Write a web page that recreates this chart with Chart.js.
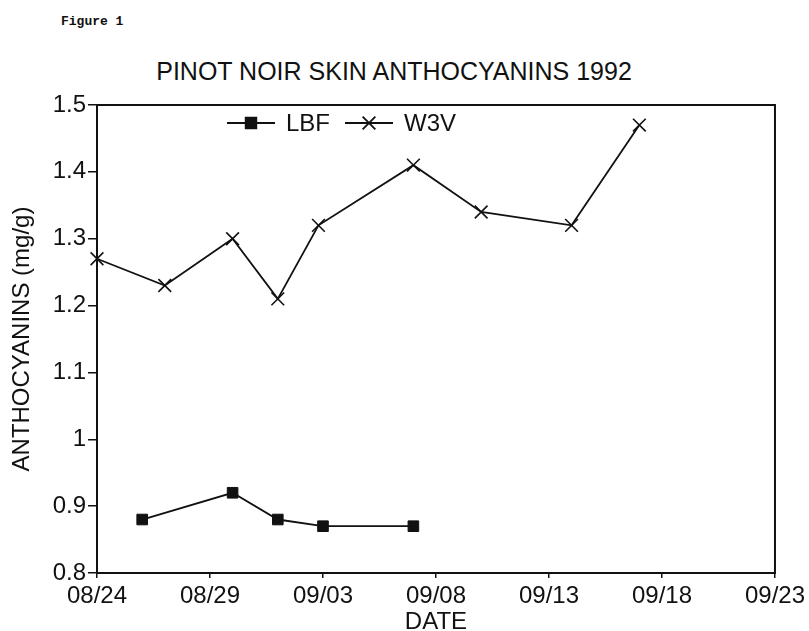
<!DOCTYPE html>
<html>
<head>
<meta charset="utf-8">
<script src="https://cdn.jsdelivr.net/npm/chart.js@4.4.1/dist/chart.umd.min.js"></script>
<style>
	html, body { margin: 0; padding: 0; background: #fff; }
	#wrap { position: relative; width: 809px; height: 631px; overflow: hidden; }
	#chartCanvas { position: absolute; left: 0; top: 0; }
	.fig { position: absolute; left: 61px; top: 14px; font: bold 13px "Liberation Mono", "DejaVu Sans Mono", monospace; color: #111; }
	.title { position: absolute; left: 0; width: 788px; top: 57px; text-align: center; font: 25px "Liberation Sans", Arial, sans-serif; color: #111; }
</style>
</head>
<body>
<div id="wrap">
	<div class="fig">Figure 1</div>
	<div class="title">PINOT NOIR SKIN ANTHOCYANINS 1992</div>
	<canvas id="chartCanvas" width="809" height="631"></canvas>
</div>
<script>
// days counted from 08/24/1992
const lbfDays = [2, 6, 8, 10, 14];
const lbfValues = [0.88, 0.92, 0.88, 0.87, 0.87];
const w3vDays = [0, 3, 6, 8, 9.8, 14, 17, 21, 24];
const w3vValues = [1.27, 1.23, 1.30, 1.21, 1.32, 1.41, 1.34, 1.32, 1.47];
const xTickLabels = ['08/24', '08/29', '09/03', '09/08', '09/13', '09/18', '09/23'];
const yTickLabels = ['0.8', '0.9', '1', '1.1', '1.2', '1.3', '1.4', '1.5'];

const ink = '#111';
const font = '"Liberation Sans", Arial, sans-serif';

function toPoints(days, values) {
	return days.map((d, i) => ({ x: d, y: values[i] }));
}

// box around the plot area
const framePlugin = {
	id: 'frame',
	afterDatasetsDraw(chart) {
		const { ctx, chartArea: a } = chart;
		ctx.save();
		ctx.strokeStyle = ink;
		ctx.lineWidth = 2;
		ctx.strokeRect(a.left, a.top, a.right - a.left, a.bottom - a.top);
		ctx.restore();
	}
};

// legend drawn inside the plot: line with the marker in the middle
const lineLegend = {
	id: 'lineLegend',
	afterDraw(chart) {
		const ctx = chart.ctx;
		const y = 123;
		const items = [
			{ ds: chart.data.datasets[0], x: 227 },
			{ ds: chart.data.datasets[1], x: 345 }
		];
		ctx.save();
		items.forEach(it => {
			ctx.strokeStyle = ink;
			ctx.lineWidth = 1.8;
			ctx.beginPath();
			ctx.moveTo(it.x, y);
			ctx.lineTo(it.x + 48, y);
			ctx.stroke();
			ctx.fillStyle = ink;
			Chart.helpers.drawPoint(ctx, {
				pointStyle: it.ds.pointStyle,
				radius: it.ds.pointRadius,
				borderWidth: it.ds.pointBorderWidth
			}, it.x + 24, y);
			ctx.fillStyle = ink;
			ctx.font = '24px ' + font;
			ctx.textBaseline = 'middle';
			ctx.fillText(it.ds.label, it.x + 59, y + 1);
		});
		ctx.restore();
	}
};

new Chart(document.getElementById('chartCanvas'), {
	type: 'scatter',
	data: {
		datasets: [
			{
				label: 'LBF',
				data: toPoints(lbfDays, lbfValues),
				showLine: true,
				borderColor: ink,
				borderWidth: 1.8,
				backgroundColor: ink,
				pointStyle: 'rect',
				pointRadius: 7.5,
				pointBorderWidth: 1,
				pointBackgroundColor: ink,
				pointBorderColor: ink,
				clip: false
			},
			{
				label: 'W3V',
				data: toPoints(w3vDays, w3vValues),
				showLine: true,
				borderColor: ink,
				borderWidth: 1.8,
				backgroundColor: ink,
				pointStyle: 'crossRot',
				pointRadius: 9,
				pointBorderWidth: 1.6,
				pointBorderColor: ink,
				clip: false
			}
		]
	},
	options: {
		responsive: false,
		animation: false,
		layout: { padding: { top: 105, right: 34, bottom: 0, left: 0 } },
		plugins: {
			legend: { display: false },
			tooltip: { enabled: false }
		},
		scales: {
			x: {
				type: 'linear',
				min: 0,
				max: 30,
				afterFit(scale) { scale.height = 58; },
				ticks: {
					stepSize: 5,
					color: ink,
					font: { family: font, size: 24 },
					padding: 4,
					maxRotation: 0,
					callback: (v, i) => xTickLabels[i]
				},
				grid: { display: true, drawOnChartArea: false, drawTicks: true, tickLength: 5, color: ink, lineWidth: 1.5 },
				border: { display: true, color: ink, width: 2 },
				title: {
					display: true,
					text: 'DATE',
					color: ink,
					font: { family: font, size: 24, lineHeight: 1 },
					padding: { top: 0, bottom: -3 }
				}
			},
			y: {
				min: 0.8,
				max: 1.5,
				afterFit(scale) { scale.width = 97; },
				ticks: {
					stepSize: 0.1,
					color: ink,
					font: { family: font, size: 24 },
					padding: 2,
					callback: (v, i) => yTickLabels[i]
				},
				grid: { display: true, drawOnChartArea: false, drawTicks: true, tickLength: 9, color: ink, lineWidth: 1.5 },
				border: { display: true, color: ink, width: 2 },
				title: {
					display: true,
					text: 'ANTHOCYANINS (mg/g)',
					color: ink,
					font: { family: font, size: 24, lineHeight: 1 },
					padding: { top: 10, bottom: 0 }
				}
			}
		}
	},
	plugins: [framePlugin, lineLegend]
});
</script>
</body>
</html>
